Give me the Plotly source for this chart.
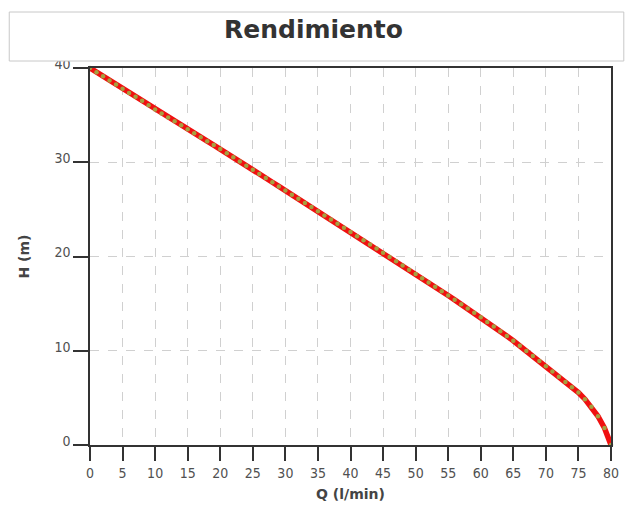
import plotly.graph_objects as go

q_values = list(range(0, 81))
h_values = [
    40.0, 39.56, 39.12, 38.68, 38.24, 37.8, 37.36, 36.94, 36.52, 36.06,
    35.6, 35.18, 34.76, 34.34, 33.92, 33.5, 33.08, 32.66, 32.24, 31.82,
    31.4, 30.96, 30.52, 30.08, 29.64, 29.2, 28.76, 28.32, 27.88, 27.44,
    27.0, 26.56, 26.12, 25.68, 25.24, 24.8, 24.36, 23.92, 23.48, 23.04,
    22.6, 22.16, 21.72, 21.28, 20.84, 20.4, 19.95, 19.5, 19.05, 18.6,
    18.15, 17.7, 17.24, 16.78, 16.32, 15.86, 15.4, 14.94, 14.48, 14.02,
    13.56, 13.06, 12.56, 12.06, 11.56, 11.06, 10.52, 9.98, 9.44, 8.9,
    8.36, 7.8, 7.24, 6.68, 6.12, 5.56, 4.86, 4.05, 3.05, 1.8, 0.0,
]
x_ticks = list(range(0, 81, 5))
y_ticks = [0, 10, 20, 30, 40]

W, H = 627, 510
ml, mr, mt, mb = 90, 8, 68, 65
pw = W - ml - mr
ph = H - mt - mb

fig = go.Figure()
fig.add_trace(go.Scatter(
    x=q_values, y=h_values, mode="lines+markers",
    line=dict(color="#f01010", width=5.5),
    marker=dict(color="#a5a040", size=4.5, line=dict(width=0)),
    showlegend=False, cliponaxis=False,
))

font_axis = dict(family="DejaVu Sans Condensed, DejaVu Sans", size=14, color="#505050")

fig.update_layout(
    width=W, height=H,
    margin=dict(l=ml, r=mr, t=mt, b=mb),
    paper_bgcolor="white", plot_bgcolor="white",
    xaxis=dict(
        range=[0, 80], tickvals=x_ticks, ticktext=[str(v) for v in x_ticks],
        ticks="outside", ticklen=14, tickwidth=1.5, tickcolor="#333333",
        showline=True, linecolor="#333333", linewidth=1.5, mirror=True,
        showgrid=True, gridcolor="#d0d0d0", griddash="dash", gridwidth=1,
        zeroline=False, tickfont=font_axis,
        title=dict(text="<b>Q (l/min)</b>", standoff=10,
                   font=dict(family="DejaVu Sans", size=14, color="#444444")),
    ),
    yaxis=dict(
        range=[0, 40], tickvals=y_ticks, ticktext=[str(v) for v in y_ticks],
        ticks="outside", ticklen=15, tickwidth=1.5, tickcolor="#333333",
        showline=True, linecolor="#333333", linewidth=1.5, mirror=True,
        showgrid=True, gridcolor="#d0d0d0", griddash="dash", gridwidth=1,
        zeroline=False, tickfont=font_axis, ticklabelshift=-4,
        title=dict(text="<b>H (m)</b>", standoff=22,
                   font=dict(family="DejaVu Sans", size=14, color="#444444")),
    ),
    shapes=[dict(
        type="rect", xref="paper", yref="paper", layer="above",
        x0=(8 - ml) / pw, x1=(W + 5 - ml) / pw,
        y0=(H - mb - 61) / ph, y1=(H - mb - 12) / ph,
        fillcolor="white", line=dict(color="#c8c8c8", width=1),
    )],
    annotations=[dict(
        text="<b>Rendimiento</b>", xref="paper", yref="paper",
        x=(317 - ml) / pw, y=(H - mb - 30) / ph, xanchor="center", yanchor="middle",
        showarrow=False,
        font=dict(family="DejaVu Sans", size=25, color="#333333"),
    )],
)

fig.write_html(
    "out.html",
    config={"displayModeBar": False},
    post_script="document.body.style.margin='0px';document.body.style.overflow='hidden';",
)
